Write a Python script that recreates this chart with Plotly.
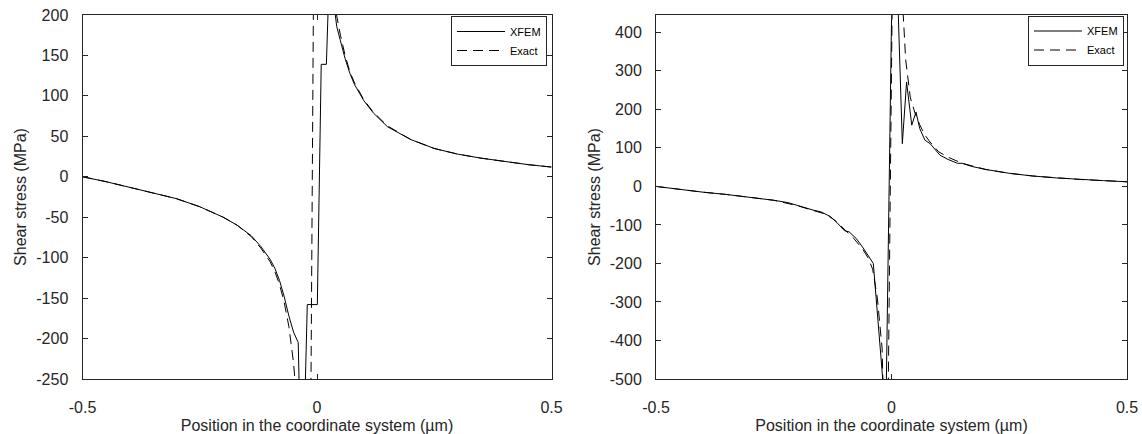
import plotly.graph_objects as go

# ---------------- data ----------------
# Left panel
xL_exact = [-0.5, -0.45, -0.4, -0.35, -0.3, -0.25, -0.2, -0.17, -0.14, -0.12, -0.1, -0.09,
            -0.08, -0.07, -0.06, -0.05, -0.04, -0.02, 0.0, 0.02, 0.03, 0.04, 0.05, 0.06,
            0.07, 0.08, 0.1, 0.12, 0.15, 0.2, 0.25, 0.3, 0.35, 0.4, 0.45, 0.5]
yL_exact = [0, -6, -13, -20, -27, -37, -50, -60, -74, -88, -105, -117,
            -133, -155, -185, -230, -300, -900, 900, 400, 260, 205, 175, 150,
            130, 116, 95, 80, 63, 46, 35, 28, 23, 19, 15, 12]

xL_xfem = [-0.5, -0.45, -0.4, -0.35, -0.3, -0.25, -0.2, -0.17, -0.14, -0.12, -0.1, -0.09,
           -0.08, -0.07, -0.06, -0.05, -0.04, -0.032, -0.0207, 0.0007, 0.005, 0.009, 0.02,
           0.03, 0.036, 0.042, 0.05, 0.06, 0.07, 0.08, 0.1, 0.12, 0.15, 0.2, 0.25, 0.3,
           0.35, 0.4, 0.45, 0.5]
yL_xfem = [0, -6, -13, -20, -27, -37, -50, -60, -73, -86, -102, -113,
           -128, -148, -172, -192, -205, -420, -158, -158, -10, 139, 139,
           320, 215, 186, 168, 146, 128, 114, 94, 79, 62, 46, 35, 28,
           23, 19, 15, 12]

# Right panel
xR_exact = [-0.5, -0.45, -0.4, -0.35, -0.3, -0.25, -0.2, -0.17, -0.14, -0.12, -0.1, -0.08,
            -0.06, -0.05, -0.04, -0.03, -0.02, -0.01, 0.005, 0.02, 0.03, 0.04, 0.05, 0.06,
            0.07, 0.08, 0.1, 0.12, 0.15, 0.2, 0.25, 0.3, 0.35, 0.4, 0.45, 0.5]
yR_exact = [0, -8, -15, -21, -28, -36, -50, -60, -72, -88, -112, -135,
            -165, -185, -215, -290, -420, -900, 900, 560, 330, 230, 190, 160,
            135, 118, 90, 76, 60, 44, 34, 27, 22, 18, 15, 12]

xR_xfem = [-0.5, -0.45, -0.4, -0.35, -0.3, -0.25, -0.22, -0.2, -0.18, -0.165, -0.15, -0.13,
           -0.115, -0.1, -0.09, -0.075, -0.06, -0.0386, -0.012, 0.002, 0.008, 0.023, 0.032,
           0.043, 0.052, 0.06, 0.071, 0.082, 0.103, 0.12, 0.14, 0.15, 0.17, 0.2, 0.25, 0.3,
           0.35, 0.4, 0.45, 0.5]
yR_xfem = [0, -8, -15, -21, -28, -36, -42, -50, -58, -62, -66, -78,
           -95, -115, -118, -135, -160, -200, -600, 600, 700, 111, 271,
           159, 193, 150, 120, 111, 81, 70, 60, 60, 52, 44, 34, 27,
           22, 18, 15, 12]

xticks = [-0.5, 0, 0.5]
xtick_text = ["-0.5", "0", "0.5"]
yticksL = [200, 150, 100, 50, 0, -50, -100, -150, -200, -250]
yticksL_text = ["200", "150", "100", "50", "0", "-50", "-100", "-150", "-200", "-250"]
yticksR = [400, 300, 200, 100, 0, -100, -200, -300, -400, -500]
yticksR_text = ["400", "300", "200", "100", "0", "-100", "-200", "-300", "-400", "-500"]

# ---------------- figure ----------------
W, H = 1142, 434
FONT = "Liberation Sans, Arial, Helvetica, sans-serif"
TXT = "#262626"
AX = "#262626"

fig = go.Figure()
line_solid = dict(color="black", width=1)
line_dash = dict(color="black", width=1, dash="10px,6px")

fig.add_trace(go.Scatter(x=xL_xfem, y=yL_xfem, mode="lines", name="XFEM", line=line_solid,
                         xaxis="x", yaxis="y", legend="legend"))
fig.add_trace(go.Scatter(x=xL_exact, y=yL_exact, mode="lines", name="Exact", line=line_dash,
                         xaxis="x", yaxis="y", legend="legend"))
fig.add_trace(go.Scatter(x=xR_xfem, y=yR_xfem, mode="lines", name="XFEM", line=line_solid,
                         xaxis="x2", yaxis="y2", legend="legend2"))
fig.add_trace(go.Scatter(x=xR_exact, y=yR_exact, mode="lines", name="Exact", line=line_dash,
                         xaxis="x2", yaxis="y2", legend="legend2"))

ybot = (H - 379) / H
ytop = (H - 15) / H
xdomL = [82.5 / W, 551.5 / W]
xdomR = [656 / W, 1127 / W]

common_x = dict(range=[-0.5, 0.5], tickvals=xticks, ticktext=xtick_text, ticks="inside",
                ticklen=5, tickcolor=AX, showline=True, linecolor=AX, linewidth=1, mirror="ticks",
                showgrid=False, zeroline=False, automargin=False, ticklabelstandoff=14,
                tickfont=dict(family=FONT, size=16, color=TXT),
                title=dict(text="Position in the coordinate system (\u00b5m)",
                           font=dict(family=FONT, size=16, color=TXT), standoff=6))
common_y = dict(ticks="inside", ticklen=5, tickcolor=AX, showline=True, linecolor=AX,
                linewidth=1, mirror="ticks", showgrid=False, zeroline=False, automargin=False,
                ticklabelstandoff=10,
                tickfont=dict(family=FONT, size=16, color=TXT),
                title=dict(text="Shear stress (MPa)", font=dict(family=FONT, size=16, color=TXT),
                           standoff=5))

legend_common = dict(bgcolor="white", bordercolor=AX, borderwidth=1,
                     font=dict(family=FONT, size=11, color="black"),
                     xanchor="right", yanchor="top", tracegroupgap=0, itemwidth=48)

fig.update_layout(
    width=W, height=H,
    margin=dict(l=0, r=0, t=0, b=0, autoexpand=False),
    paper_bgcolor="white", plot_bgcolor="white",
    showlegend=True,
    xaxis=dict(domain=xdomL, anchor="y", **common_x),
    yaxis=dict(domain=[ybot, ytop], anchor="x", range=[-250, 200], tickvals=yticksL,
               ticktext=yticksL_text, **common_y),
    xaxis2=dict(domain=xdomR, anchor="y2", **common_x),
    yaxis2=dict(domain=[ybot, ytop], anchor="x2", range=[-500, 445], tickvals=yticksR,
                ticktext=yticksR_text, **common_y),
    legend=dict(x=547 / W, y=(H - 16) / H, **legend_common),
    legend2=dict(x=1124 / W, y=(H - 15.5) / H, **legend_common),
)

fig.write_html("out.html")
